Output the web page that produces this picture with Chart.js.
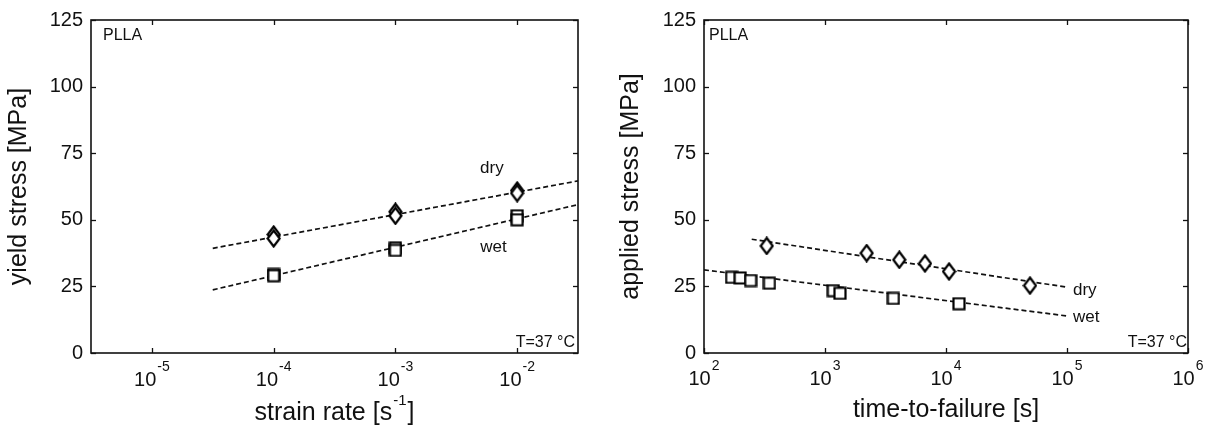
<!DOCTYPE html>
<html><head><meta charset="utf-8">
<script src="https://cdn.jsdelivr.net/npm/chart.js@4.4.1/dist/chart.umd.min.js"></script>
<style>
html,body{margin:0;padding:0;background:#fff;width:1225px;height:431px;overflow:hidden;}
.panel{position:absolute;top:0;height:431px;}
#p1{left:0;width:612px;}
#p2{left:612px;width:613px;}
</style></head><body>
<div class="panel" id="p1"><canvas id="c1" width="612" height="431"></canvas></div>
<div class="panel" id="p2"><canvas id="c2" width="613" height="431"></canvas></div>
<script>
// ---------- data ----------
const strainRate   = [1e-4, 1e-4, 1e-3, 1e-3, 1e-2, 1e-2];
const yieldDry     = [44.5, 43.0, 53.0, 51.5, 61.0, 60.0];
const yieldWet     = [29.5, 29.0, 39.5, 38.5, 51.5, 50.0];
const fitRate      = [3.162e-5, 3.162e-2];
const fitYieldDry  = [39.3, 64.6];
const fitYieldWet  = [23.7, 55.7];

const ttfDry       = [330, 2210, 4110, 6700, 10600, 49400];
const stressDry    = [40.2, 37.5, 35.0, 33.6, 30.6, 25.3];
const ttfWet       = [169, 199, 243, 347, 1170, 1330, 3670, 12800];
const stressWet    = [28.4, 28.2, 27.2, 26.2, 23.4, 22.4, 20.5, 18.5];
const fitTtfDry    = [248, 1e5];
const fitStressDry = [42.7, 24.7];
const fitTtfWet    = [100, 1e5];
const fitStressWet = [31.2, 13.9];

const yTicks       = [0, 25, 50, 75, 100, 125];
const xTicksLeft   = [1e-5, 1e-4, 1e-3, 1e-2];
const xTicksRight  = [1e2, 1e3, 1e4, 1e5, 1e6];

// ---------- styling ----------
const FONT = '"Liberation Sans", Arial, Helvetica, sans-serif';
const INK = '#111';

function markerCanvas(kind, w, h) {
  const c = document.createElement('canvas');
  c.width = w; c.height = h;
  const g = c.getContext('2d');
  g.fillStyle = '#fff'; g.strokeStyle = '#000'; g.lineWidth = 2.2;
  g.beginPath();
  if (kind === 'diamond') {
    g.moveTo(w / 2, 1.5); g.lineTo(w - 1.5, h / 2); g.lineTo(w / 2, h - 1.5); g.lineTo(1.5, h / 2); g.closePath();
  } else {
    g.rect(1.5, 1.5, w - 3, h - 3);
  }
  g.fill(); g.stroke();
  return c;
}
const diamondImg = markerCanvas('diamond', 15, 19);
const squareImg = markerCanvas('square', 14, 14);

function pts(xs, ys) { return xs.map((x, i) => ({ x: x, y: ys[i] })); }

const decoPlugin = {
  id: 'deco',
  afterDraw(chart, args, o) {
    const ctx = chart.ctx, a = chart.chartArea;
    const xs = chart.scales.x, ys = chart.scales.y;
    ctx.save();
    ctx.strokeStyle = INK;
    ctx.lineWidth = 1.6;
    ctx.strokeRect(a.left, a.top, a.right - a.left, a.bottom - a.top);
    ctx.lineWidth = 1.3;
    const tl = 5;
    const seg = (x1, y1, x2, y2) => { ctx.beginPath(); ctx.moveTo(x1, y1); ctx.lineTo(x2, y2); ctx.stroke(); };
    xs.ticks.forEach(t => {
      const px = Math.round(xs.getPixelForValue(t.value)) + 0.5;
      seg(px, a.bottom, px, a.bottom - tl);
      seg(px, a.top, px, a.top + tl);
    });
    ys.ticks.forEach(t => {
      const py = Math.round(ys.getPixelForValue(t.value)) + 0.5;
      seg(a.left, py, a.left + tl, py);
      seg(a.right, py, a.right - tl, py);
    });
    // x tick labels 10^n
    ctx.fillStyle = INK;
    ctx.textBaseline = 'alphabetic';
    ctx.textAlign = 'left';
    xs.ticks.forEach(t => {
      const e = String(Math.round(Math.log10(t.value)));
      ctx.font = '20px ' + FONT; const wb = ctx.measureText('10').width;
      ctx.font = '14px ' + FONT; const we = ctx.measureText(e).width;
      const x0 = xs.getPixelForValue(t.value) - (wb + we + 1) / 2;
      ctx.font = '20px ' + FONT; ctx.fillText('10', x0, o.tickBase);
      ctx.font = '14px ' + FONT; ctx.fillText(e, x0 + wb + 1, o.tickBase - 15);
    });
    // x title
    const T = o.xTitle;
    ctx.font = '25px ' + FONT; const w1 = ctx.measureText(T.main).width; const w3 = ctx.measureText(T.tail).width;
    ctx.font = '15px ' + FONT; const w2 = T.sup ? ctx.measureText(T.sup).width + 2 : 0;
    let x = (a.left + a.right) / 2 - (w1 + w2 + w3) / 2;
    ctx.font = '25px ' + FONT; ctx.fillText(T.main, x, T.base); x += w1;
    if (T.sup) { ctx.font = '15px ' + FONT; ctx.fillText(T.sup, x + 1, T.base - 15); x += w2; }
    ctx.font = '25px ' + FONT; ctx.fillText(T.tail, x, T.base);
    // corner notes
    ctx.font = '16px ' + FONT;
    ctx.textAlign = 'left';
    ctx.fillText('PLLA', a.left + o.pllaDx, a.top + 20);
    ctx.textAlign = 'right';
    ctx.fillText('T=37 °C', a.right - o.tempDx, a.bottom - 6);
    // series labels at data coordinates
    ctx.font = '17px ' + FONT;
    ctx.textBaseline = 'middle';
    o.notes.forEach(n => {
      ctx.textAlign = n.align;
      ctx.fillText(n.text, xs.getPixelForValue(n.x), ys.getPixelForValue(n.y));
    });
    ctx.restore();
  }
};

function makeChart(id, cfg) {
  const fitStyle = { showLine: true, pointRadius: 0, borderColor: INK, borderWidth: 1.7, borderDash: [5, 3], fill: false };
  const mk = { showLine: false, pointRadius: 6, pointHoverRadius: 6 };
  new Chart(document.getElementById(id), {
    type: 'scatter',
    data: {
      datasets: [
        Object.assign({ label: 'dry', data: cfg.dry, pointStyle: diamondImg }, mk),
        Object.assign({ label: 'wet', data: cfg.wet, pointStyle: squareImg }, mk),
        Object.assign({ label: 'dry fit', data: cfg.fitDry }, fitStyle),
        Object.assign({ label: 'wet fit', data: cfg.fitWet }, fitStyle)
      ]
    },
    options: {
      responsive: false,
      devicePixelRatio: 1,
      animation: false,
      events: [],
      layout: { padding: { top: 17, right: cfg.padRight, bottom: 0, left: 0 } },
      plugins: {
        legend: { display: false },
        tooltip: { enabled: false },
        deco: cfg.deco
      },
      scales: {
        x: {
          type: 'logarithmic',
          min: cfg.xMin, max: cfg.xMax,
          grid: { display: false, drawTicks: false },
          border: { display: false },
          ticks: { display: false },
          afterBuildTicks: s => { s.ticks = cfg.xTicks.map(v => ({ value: v })); },
          afterFit: s => { s.height = 78; }
        },
        y: {
          type: 'linear',
          min: 0, max: 125,
          grid: { display: false, drawTicks: false },
          border: { display: false },
          ticks: { color: INK, font: { family: FONT, size: 20 }, padding: 8 },
          afterBuildTicks: s => { s.ticks = yTicks.map(v => ({ value: v })); },
          afterFit: s => { s.width = cfg.yWidth; },
          title: { display: true, text: cfg.yTitle, color: INK, font: { family: FONT, size: 25 }, padding: { top: 4, bottom: 0 } }
        }
      }
    },
    plugins: [decoPlugin]
  });
}

makeChart('c1', {
  dry: pts(strainRate, yieldDry),
  wet: pts(strainRate, yieldWet),
  fitDry: pts(fitRate, fitYieldDry),
  fitWet: pts(fitRate, fitYieldWet),
  xMin: 3.162e-6, xMax: 3.162e-2,
  xTicks: xTicksLeft,
  yTitle: 'yield stress [MPa]',
  yWidth: 91,
  padRight: 34,
  deco: {
    tickBase: 386,
    xTitle: { main: 'strain rate [s', sup: '-1', tail: ']', base: 420 },
    pllaDx: 12, tempDx: 3,
    notes: [
      { text: 'dry', x: 6.2e-3, y: 69.3, align: 'center' },
      { text: 'wet', x: 6.4e-3, y: 39.5, align: 'center' }
    ]
  }
});

makeChart('c2', {
  dry: pts(ttfDry, stressDry),
  wet: pts(ttfWet, stressWet),
  fitDry: pts(fitTtfDry, fitStressDry),
  fitWet: pts(fitTtfWet, fitStressWet),
  xMin: 1e2, xMax: 1e6,
  xTicks: xTicksRight,
  yTitle: 'applied stress [MPa]',
  yWidth: 92,
  padRight: 37,
  deco: {
    tickBase: 385,
    xTitle: { main: 'time-to-failure [s', sup: '', tail: ']', base: 417 },
    pllaDx: 5, tempDx: 1,
    notes: [
      { text: 'dry', x: 1.12e5, y: 23.4, align: 'left' },
      { text: 'wet', x: 1.12e5, y: 13.5, align: 'left' }
    ]
  }
});
</script>
</body></html>
